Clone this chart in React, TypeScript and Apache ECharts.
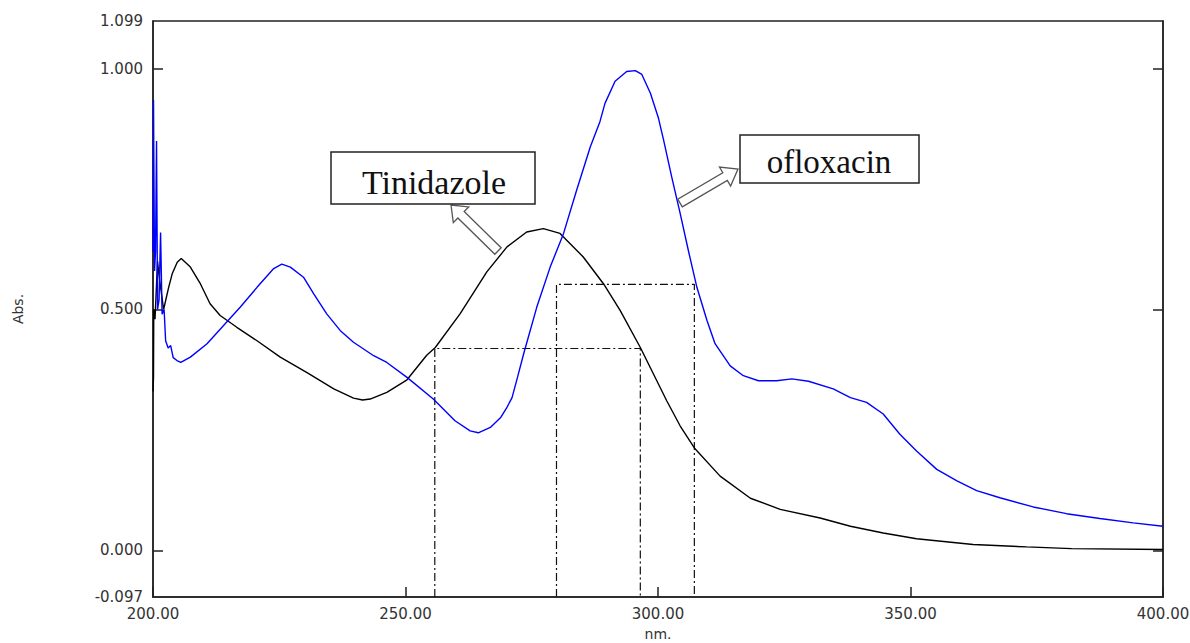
import React, { useEffect, useRef } from "react";
import * as echarts from "echarts";

// ofloxacin (blue)
const oflWave = [200.0, 200.1, 200.3, 200.5, 200.7, 200.9, 201.2, 201.5, 201.8, 202.2, 202.5, 203.0, 203.5, 204.0, 204.75, 205.5, 207.4, 210.7, 214.6, 217.3, 220.6, 223.9, 225.5, 227.2, 229.8, 231.8, 234.4, 237.1, 239.7, 243.7, 246.3, 250.3, 255.5, 259.8, 262.8, 264.4, 266.8, 268.8, 270.0, 271.1, 272.2, 273.4, 276.0, 278.65, 281.3, 283.9, 286.6, 288.5, 289.5, 291.5, 293.8, 295.5, 296.8, 298.5, 300.1, 301.1, 302.7, 304.4, 306.0, 307.7, 309.7, 311.3, 314.3, 316.9, 319.9, 323.5, 326.5, 329.8, 334.7, 338.1, 341.3, 344.6, 347.9, 351.2, 355.2, 359.2, 363.1, 367.7, 374.3, 380.9, 387.5, 394.1, 400.0];
const oflAbs = [0.62, 0.935, 0.58, 0.62, 0.85, 0.50, 0.52, 0.66, 0.49, 0.50, 0.435, 0.42, 0.425, 0.40, 0.394, 0.39, 0.401, 0.429, 0.474, 0.505, 0.546, 0.585, 0.594, 0.588, 0.567, 0.533, 0.491, 0.456, 0.432, 0.404, 0.39, 0.359, 0.314, 0.269, 0.248, 0.244, 0.255, 0.275, 0.295, 0.317, 0.36, 0.408, 0.505, 0.588, 0.658, 0.748, 0.838, 0.89, 0.928, 0.974, 0.994, 0.996, 0.988, 0.949, 0.897, 0.852, 0.776, 0.699, 0.623, 0.546, 0.477, 0.429, 0.383, 0.3625, 0.352, 0.352, 0.356, 0.351, 0.335, 0.317, 0.307, 0.283, 0.241, 0.206, 0.168, 0.144, 0.124, 0.109, 0.09, 0.076, 0.066, 0.057, 0.05];

// Tinidazole (black)
const tinWave = [200.0, 200.1, 200.15, 200.4, 200.9, 201.2, 202.1, 203.1, 203.8, 204.8, 205.6, 207.4, 209.4, 211.3, 213.3, 216.6, 220.6, 225.2, 230.5, 235.8, 239.7, 241.5, 243.0, 246.3, 250.3, 254.2, 255.9, 260.8, 266.1, 270.1, 274.0, 277.3, 280.6, 285.2, 289.2, 292.5, 296.5, 301.75, 304.4, 307.2, 312.3, 318.3, 324.2, 332.1, 338.1, 344.6, 351.2, 362.4, 373.0, 381.9, 400.0];
const tinAbs = [0.33, 0.36, 0.50, 0.48, 0.60, 0.57, 0.50, 0.546, 0.574, 0.598, 0.606, 0.588, 0.553, 0.512, 0.4875, 0.463, 0.435, 0.401, 0.369, 0.335, 0.316, 0.312, 0.314, 0.328, 0.354, 0.405, 0.421, 0.491, 0.578, 0.63, 0.661, 0.668, 0.658, 0.609, 0.5535, 0.498, 0.421, 0.31, 0.258, 0.2125, 0.154, 0.108, 0.085, 0.067, 0.05, 0.036, 0.024, 0.012, 0.007, 0.0035, 0.0015];

// dash-dot guide lines (wavelength pair and level)
const tinGuideWave = [255.8, 296.5];
const tinGuideLevel = 0.419;
const oflGuideWave = [279.9, 307.2];
const oflGuideLevel = 0.552;

const yMin = -0.097;
const yMax = 1.099;
const yLabelValues = [-0.097, 0, 0.5, 1, 1.099];
const yTickValues = [0, 0.5, 1];

function guide(xs: number[], level: number) {
  return [
    [xs[0], yMin],
    [xs[0], level],
    [xs[1], level],
    [xs[1], yMin],
  ];
}

function arrow(tail: number[], tip: number[], w: number, h: number, L: number) {
  const dx = tip[0] - tail[0];
  const dy = tip[1] - tail[1];
  const len = Math.sqrt(dx * dx + dy * dy);
  const ux = dx / len, uy = dy / len;
  const nx = -uy, ny = ux;
  const bx = tip[0] - ux * L, by = tip[1] - uy * L;
  return [
    [tail[0] + nx * w, tail[1] + ny * w],
    [bx + nx * w, by + ny * w],
    [bx + nx * h, by + ny * h],
    [tip[0], tip[1]],
    [bx - nx * h, by - ny * h],
    [bx - nx * w, by - ny * w],
    [tail[0] - nx * w, tail[1] - ny * w],
  ];
}

export default function App() {
  const ref = useRef<HTMLDivElement>(null);
  useEffect(() => {
    if (!ref.current) return;
    const chart = echarts.init(ref.current, undefined, { renderer: "svg" });
    const labelStyle = { color: "#333", fontSize: 15, fontFamily: "DejaVu Sans" };
    chart.setOption({
      animation: false,
      backgroundColor: "#fff",
      grid: { left: 153, top: 21, right: 27, bottom: 46, show: true, borderColor: "#222", borderWidth: 1.5, outerBoundsMode: "none", containLabel: false },
      xAxis: {
        type: "value",
        min: 200,
        max: 400,
        interval: 50,
        name: "nm.",
        nameLocation: "middle",
        nameGap: 30,
        nameTextStyle: { ...labelStyle, fontSize: 14 },
        axisLine: { show: true, onZero: false, lineStyle: { color: "#222", width: 1.5 } },
        axisTick: { show: true, inside: true, length: 10, lineStyle: { color: "#222", width: 1.5 } },
        axisLabel: { ...labelStyle, margin: 9, formatter: (v: number) => v.toFixed(2) },
        splitLine: { show: false },
      },
      yAxis: [
        {
          type: "value",
          min: yMin,
          max: yMax,
          name: "Abs.",
          nameLocation: "middle",
          nameRotate: 90,
          nameGap: 128,
          nameTextStyle: { ...labelStyle, fontSize: 14 },
          axisLine: { show: true, onZero: false, lineStyle: { color: "#222", width: 1.5 } },
          axisTick: { show: true, inside: true, length: 10, customValues: yTickValues, lineStyle: { color: "#222", width: 1.5 } },
          axisLabel: { ...labelStyle, margin: 10, customValues: yLabelValues, formatter: (v: number) => v.toFixed(3) },
          splitLine: { show: false },
        },
        {
          type: "value",
          min: yMin,
          max: yMax,
          position: "right",
          axisLine: { show: true, onZero: false, lineStyle: { color: "#222", width: 1.5 } },
          axisTick: { show: true, inside: true, length: 10, customValues: yTickValues, lineStyle: { color: "#222", width: 1.5 } },
          axisLabel: { show: false },
          splitLine: { show: false },
        },
      ],
      series: [
        {
          name: "Tinidazole guide",
          type: "line",
          data: guide(tinGuideWave, tinGuideLevel),
          showSymbol: false,
          silent: true,
          lineStyle: { color: "#111", width: 1.2, type: [8, 3, 2, 3] },
        },
        {
          name: "ofloxacin guide",
          type: "line",
          data: guide(oflGuideWave, oflGuideLevel),
          showSymbol: false,
          silent: true,
          lineStyle: { color: "#111", width: 1.2, type: [8, 3, 2, 3] },
        },
        {
          name: "Tinidazole",
          type: "line",
          data: tinWave.map((w, i) => [w, tinAbs[i]]),
          showSymbol: false,
          lineStyle: { color: "#000", width: 1.4 },
        },
        {
          name: "ofloxacin",
          type: "line",
          data: oflWave.map((w, i) => [w, oflAbs[i]]),
          showSymbol: false,
          lineStyle: { color: "#0000ff", width: 1.4 },
        },
      ],
      graphic: [
        {
          type: "polygon",
          shape: { points: arrow([498, 251], [451, 205], 4.5, 11, 14) },
          style: { fill: "#fff", stroke: "#555", lineWidth: 1.3 },
          z: 100,
        },
        {
          type: "polygon",
          shape: { points: arrow([680, 203], [738, 169], 4.5, 11, 15) },
          style: { fill: "#fff", stroke: "#555", lineWidth: 1.3 },
          z: 100,
        },
        {
          type: "rect",
          shape: { x: 331, y: 152, width: 204, height: 52 },
          style: { fill: "#fff", stroke: "#222", lineWidth: 1.5 },
          z: 100,
        },
        {
          type: "text",
          x: 434,
          y: 182,
          style: { text: "Tinidazole", fill: "#111", font: '34px "Liberation Serif"', align: "center", verticalAlign: "middle" },
          z: 101,
        },
        {
          type: "rect",
          shape: { x: 740, y: 135, width: 179, height: 48 },
          style: { fill: "#fff", stroke: "#222", lineWidth: 1.5 },
          z: 100,
        },
        {
          type: "text",
          x: 829,
          y: 162,
          style: { text: "ofloxacin", fill: "#111", font: '33px "Liberation Serif"', align: "center", verticalAlign: "middle" },
          z: 101,
        },
      ],
    });
    return () => chart.dispose();
  }, []);
  return <div ref={ref} style={{ position: "fixed", left: 0, top: 0, width: 1190, height: 643 }} />;
}
